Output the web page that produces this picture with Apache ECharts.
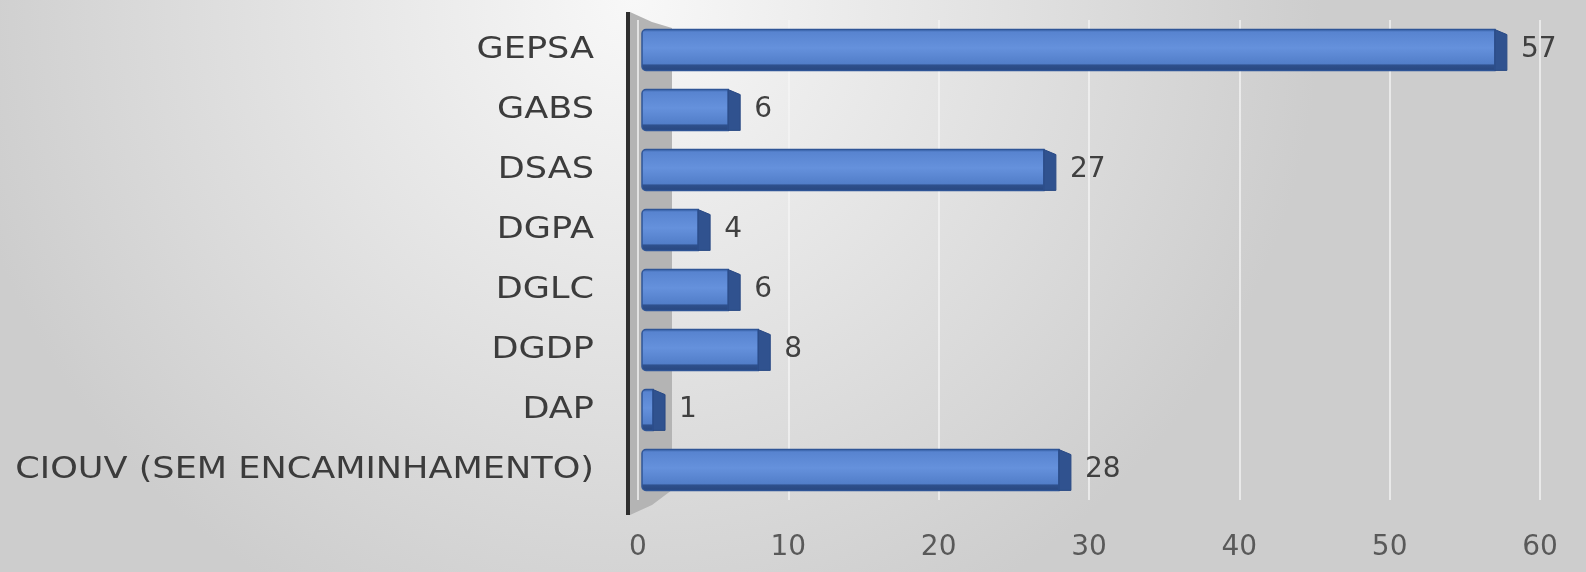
<!DOCTYPE html>
<html>
<head>
<meta charset="utf-8">
<script src="https://cdn.jsdelivr.net/npm/echarts@6/dist/echarts.min.js"></script>
<style>
  html, body { margin: 0; padding: 0; }
  #barChart { width: 1586px; height: 572px; }
</style>
</head>
<body>
<div id="barChart"></div>
<script>
// categorias e valores
const categories = [
  "GEPSA",
  "GABS",
  "DSAS",
  "DGPA",
  "DGLC",
  "DGDP",
  "DAP",
  "CIOUV (SEM ENCAMINHAMENTO)",
];
const values = [57, 6, 27, 4, 6, 8, 1, 28];
const xTicks = [0, 10, 20, 30, 40, 50, 60];

const labelFont = "'DejaVu Sans', Verdana, sans-serif";

// barra "3D": face frontal, faixa inferior escura e lateral direita
function renderBar(params, api) {
  const cat = api.value(1);
  const start = api.coord([0, cat]);
  const end = api.coord([api.value(0), cat]);
  const h = api.size([0, 1])[1] * 0.68;
  const x0 = start[0] + 4;
  const x1 = end[0];
  const top = end[1] - h / 2;
  const side = 12;
  const lift = 5;
  return {
    type: "group",
    children: [
      {
        type: "rect",
        shape: { x: x0, y: top, width: x1 - x0, height: h, r: [4, 0, 0, 4] },
        style: {
          fill: new echarts.graphic.LinearGradient(0, 0, 0, 1, [
            { offset: 0, color: "#3a64a8" },
            { offset: 0.08, color: "#5884d0" },
            { offset: 0.45, color: "#6591dc" },
            { offset: 0.82, color: "#527ec9" },
            { offset: 0.86, color: "#2e508d" },
            { offset: 1, color: "#28467e" },
          ]),
          stroke: "#2f5597",
          lineWidth: 1.5,
        },
      },
      {
        type: "polygon",
        shape: {
          points: [
            [x1, top],
            [x1 + side, top + lift],
            [x1 + side, top + h],
            [x1, top + h],
          ],
        },
        style: { fill: "#30528f", stroke: "#2a4a85", lineWidth: 1 },
      },
      {
        type: "text",
        style: {
          x: x1 + side + 14,
          y: end[1],
          text: String(api.value(0)),
          fill: "#404040",
          font: "28px " + labelFont,
          verticalAlign: "middle",
          align: "left",
        },
      },
    ],
  };
}

// rótulos do eixo Y, esticados na horizontal como no original
function renderCatLabel(params, api) {
  const p = api.coord([0, api.value(0)]);
  return {
    type: "text",
    x: 594,
    y: p[1],
    scaleX: 1.17,
    style: {
      text: categories[api.value(0)],
      fill: "#3c3c3c",
      font: "30px " + labelFont,
      align: "right",
      verticalAlign: "middle",
    },
  };
}

const option = {
  backgroundColor: new echarts.graphic.RadialGradient(0.4, 0.0, 1.2, [
    { offset: 0, color: "#f8f8f8" },
    { offset: 0.45, color: "#e5e5e5" },
    { offset: 1, color: "#cdcdcd" },
  ]),
  animation: false,
  grid: { left: 638, right: 46, top: 20, bottom: 72 },
  graphic: [
    {
      type: "polygon",
      z: 0,
      shape: {
        points: [
          [630, 12],
          [652, 22],
          [672, 28],
          [672, 490],
          [652, 505],
          [630, 515],
        ],
      },
      style: { fill: "#b4b4b4" },
    },
    {
      type: "line",
      z: 10,
      shape: { x1: 628, y1: 12, x2: 628, y2: 515 },
      style: { stroke: "#2e2e2e", lineWidth: 4 },
    },
  ],
  xAxis: {
    type: "value",
    min: xTicks[0],
    max: xTicks[xTicks.length - 1],
    interval: 10,
    axisLine: { show: false },
    axisTick: { show: false },
    axisLabel: {
      color: "#595959",
      fontSize: 28,
      fontFamily: labelFont,
      margin: 34,
    },
    splitLine: {
      show: true,
      lineStyle: { color: "rgba(245,245,245,0.7)", width: 2 },
    },
  },
  yAxis: {
    type: "category",
    data: categories,
    inverse: true,
    axisLine: { show: false },
    axisTick: { show: false },
    axisLabel: { show: false },
  },
  series: [
    {
      type: "custom",
      renderItem: renderBar,
      encode: { x: 0, y: 1 },
      data: values.map((v, i) => [v, i]),
      z: 5,
    },
    {
      type: "custom",
      renderItem: renderCatLabel,
      encode: { y: 0 },
      data: categories.map((c, i) => [i]),
      clip: false,
      silent: true,
    },
  ],
};

const chart = echarts.init(document.getElementById("barChart"));
chart.setOption(option);
</script>
</body>
</html>
